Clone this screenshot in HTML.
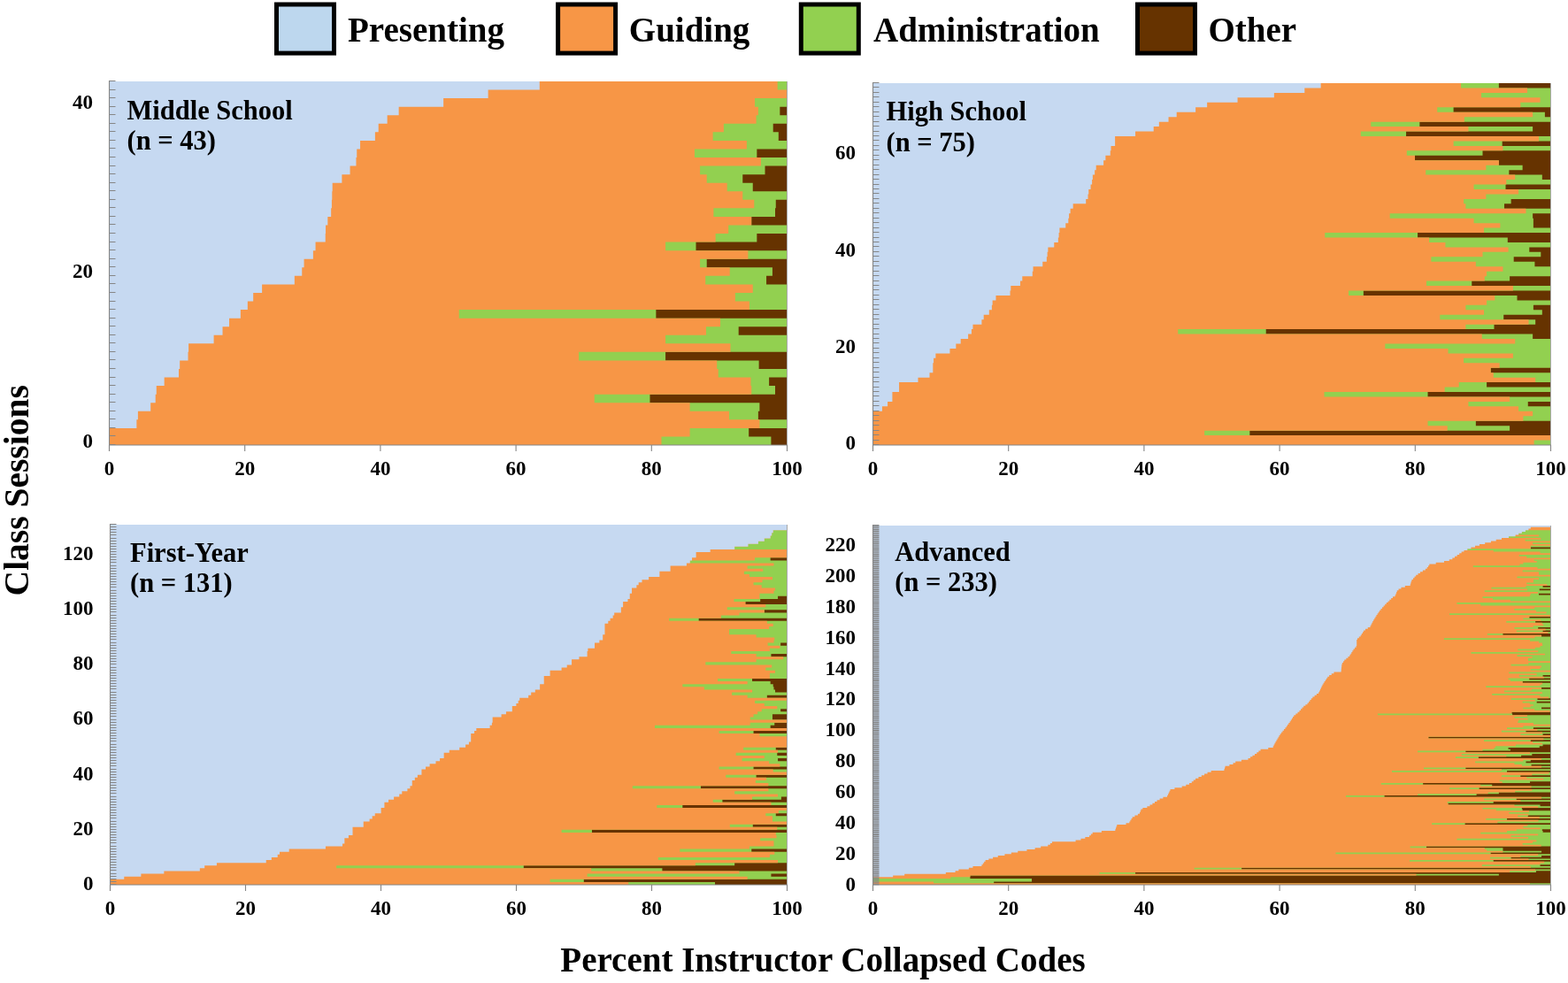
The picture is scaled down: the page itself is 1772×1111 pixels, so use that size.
<!DOCTYPE html>
<html><head><meta charset="utf-8"><title>Instructor codes</title>
<style>html,body{margin:0;padding:0;background:#fff;} body{width:1772px;height:1111px;overflow:hidden;} svg{display:block;}</style>
</head><body>
<svg width="1772" height="1111" viewBox="0 0 1772 1111">
<style>
text { font-family: "Liberation Serif", "Times New Roman", serif; font-weight: bold; fill: #000; }
.tk { font-size: 23px; }
.pt { font-size: 30.5px; }
.lg { font-size: 39px; }
.ax { font-size: 39px; }
</style>
<rect width="1772" height="1111" fill="#fff"/>
<rect x="312.50" y="5" width="65" height="55.1" fill="#BDD7EE" stroke="#000" stroke-width="5"/>
<text class="lg" x="393" y="46.8">Presenting</text>
<rect x="630.60" y="5" width="65" height="55.1" fill="#F79646" stroke="#000" stroke-width="5"/>
<text class="lg" x="710.8" y="46.8">Guiding</text>
<rect x="905.30" y="5" width="65" height="55.1" fill="#92D050" stroke="#000" stroke-width="5"/>
<text class="lg" x="987" y="46.8">Administration</text>
<rect x="1285.50" y="5" width="65" height="55.1" fill="#663300" stroke="#000" stroke-width="5"/>
<text class="lg" x="1365.5" y="46.8">Other</text>
<clipPath id="c1"><rect x="124" y="92" width="765" height="411"/></clipPath>
<g clip-path="url(#c1)">
<rect x="122.00" y="90.00" width="769.00" height="415.00" fill="#663300"/>
<path d="M122.00,505.00 L871.40,505.00 L871.40,493.44 L846.16,493.44 L846.16,483.88 L891.00,483.88 L891.00,474.33 L856.87,474.33 L856.87,464.77 L858.40,464.77 L858.40,455.21 L734.47,455.21 L734.47,445.65 L876.00,445.65 L876.00,436.09 L869.11,436.09 L869.11,426.53 L891.00,426.53 L891.00,416.98 L857.63,416.98 L857.63,407.42 L752.06,407.42 L752.06,397.86 L891.00,397.86 L891.00,388.30 L891.00,388.30 L891.00,378.74 L834.68,378.74 L834.68,369.19 L891.00,369.19 L891.00,359.63 L741.36,359.63 L741.36,350.07 L891.00,350.07 L891.00,340.51 L891.00,340.51 L891.00,330.95 L891.00,330.95 L891.00,321.40 L866.05,321.40 L866.05,311.84 L872.93,311.84 L872.93,302.28 L798.73,302.28 L798.73,292.72 L891.00,292.72 L891.00,283.16 L786.49,283.16 L786.49,273.60 L855.34,273.60 L855.34,264.05 L891.00,264.05 L891.00,254.49 L849.22,254.49 L849.22,244.93 L876.00,244.93 L876.00,235.37 L876.76,235.37 L876.76,225.81 L891.00,225.81 L891.00,216.26 L850.75,216.26 L850.75,206.70 L839.27,206.70 L839.27,197.14 L864.52,197.14 L864.52,187.58 L891.00,187.58 L891.00,178.02 L855.34,178.02 L855.34,168.47 L891.00,168.47 L891.00,158.91 L879.82,158.91 L879.82,149.35 L873.70,149.35 L873.70,139.79 L891.00,139.79 L891.00,130.23 L881.35,130.23 L881.35,120.67 L891.00,120.67 L891.00,111.12 L891.00,111.12 L891.00,101.56 L891.00,101.56 L891.00,90.00 L122.00,90.00 Z" fill="#92D050"/>
<path d="M122.00,505.00 L747.48,505.00 L747.48,493.44 L779.61,493.44 L779.61,483.88 L858.40,483.88 L858.40,474.33 L823.98,474.33 L823.98,464.77 L779.61,464.77 L779.61,455.21 L671.74,455.21 L671.74,445.65 L849.22,445.65 L849.22,436.09 L848.46,436.09 L848.46,426.53 L811.74,426.53 L811.74,416.98 L810.21,416.98 L810.21,407.42 L654.14,407.42 L654.14,397.86 L825.50,397.86 L825.50,388.30 L752.06,388.30 L752.06,378.74 L797.97,378.74 L797.97,369.19 L814.03,369.19 L814.03,359.63 L518.74,359.63 L518.74,350.07 L846.92,350.07 L846.92,340.51 L830.86,340.51 L830.86,330.95 L850.75,330.95 L850.75,321.40 L797.20,321.40 L797.20,311.84 L824.74,311.84 L824.74,302.28 L791.08,302.28 L791.08,292.72 L845.39,292.72 L845.39,283.16 L752.06,283.16 L752.06,273.60 L808.67,273.60 L808.67,264.05 L823.21,264.05 L823.21,254.49 L849.22,254.49 L849.22,244.93 L806.38,244.93 L806.38,235.37 L852.28,235.37 L852.28,225.81 L839.27,225.81 L839.27,216.26 L821.68,216.26 L821.68,206.70 L798.73,206.70 L798.73,197.14 L791.08,197.14 L791.08,187.58 L859.93,187.58 L859.93,178.02 L784.96,178.02 L784.96,168.47 L843.87,168.47 L843.87,158.91 L805.62,158.91 L805.62,149.35 L817.86,149.35 L817.86,139.79 L854.58,139.79 L854.58,130.23 L856.87,130.23 L856.87,120.67 L853.04,120.67 L853.04,111.12 L891.00,111.12 L891.00,101.56 L878.67,101.56 L878.67,90.00 L122.00,90.00 Z" fill="#F79646"/>
<path d="M122.00,505.00 L124.00,505.00 L124.00,493.44 L124.00,493.44 L124.00,483.88 L154.37,483.88 L154.37,474.33 L155.90,474.33 L155.90,464.77 L170.21,464.77 L170.21,455.21 L175.71,455.21 L175.71,445.65 L176.78,445.65 L176.78,436.09 L185.66,436.09 L185.66,426.53 L202.03,426.53 L202.03,416.98 L203.18,416.98 L203.18,407.42 L212.51,407.42 L212.51,397.86 L213.12,397.86 L213.12,388.30 L241.58,388.30 L241.58,378.74 L251.53,378.74 L251.53,369.19 L259.02,369.19 L259.02,359.63 L271.87,359.63 L271.87,350.07 L279.83,350.07 L279.83,340.51 L286.18,340.51 L286.18,330.95 L296.12,330.95 L296.12,321.40 L332.85,321.40 L332.85,311.84 L341.26,311.84 L341.26,302.28 L343.56,302.28 L343.56,292.72 L353.88,292.72 L353.88,283.16 L356.56,283.16 L356.56,273.60 L367.73,273.60 L367.73,264.05 L368.03,264.05 L368.03,254.49 L370.33,254.49 L370.33,244.93 L374.16,244.93 L374.16,235.37 L374.92,235.37 L374.92,225.81 L375.30,225.81 L375.30,216.26 L375.69,216.26 L375.69,206.70 L386.39,206.70 L386.39,197.14 L395.57,197.14 L395.57,187.58 L402.46,187.58 L402.46,178.02 L403.23,178.02 L403.23,168.47 L407.05,168.47 L407.05,158.91 L423.88,158.91 L423.88,149.35 L427.71,149.35 L427.71,139.79 L437.65,139.79 L437.65,130.23 L450.66,130.23 L450.66,120.67 L501.14,120.67 L501.14,111.12 L551.63,111.12 L551.63,101.56 L609.77,101.56 L609.77,90.00 L122.00,90.00 Z" fill="#C6D9F1"/>
</g>
<path d="M889.50,92.00V503.00" stroke="#a8a8a8" stroke-width="1" fill="none"/>
<path d="M123.00,502.50h7.5 M123.00,492.50h7.5 M123.00,483.50h7.5 M123.00,473.50h7.5 M123.00,464.50h7.5 M123.00,454.50h7.5 M123.00,445.50h7.5 M123.00,435.50h7.5 M123.00,426.50h7.5 M123.00,416.50h7.5 M123.00,406.50h7.5 M123.00,397.50h7.5 M123.00,387.50h7.5 M123.00,378.50h7.5 M123.00,368.50h7.5 M123.00,359.50h7.5 M123.00,349.50h7.5 M123.00,340.50h7.5 M123.00,330.50h7.5 M123.00,320.50h7.5 M123.00,311.50h7.5 M123.00,301.50h7.5 M123.00,292.50h7.5 M123.00,282.50h7.5 M123.00,273.50h7.5 M123.00,263.50h7.5 M123.00,253.50h7.5 M123.00,244.50h7.5 M123.00,234.50h7.5 M123.00,225.50h7.5 M123.00,215.50h7.5 M123.00,206.50h7.5 M123.00,196.50h7.5 M123.00,187.50h7.5 M123.00,177.50h7.5 M123.00,167.50h7.5 M123.00,158.50h7.5 M123.00,148.50h7.5 M123.00,139.50h7.5 M123.00,129.50h7.5 M123.00,120.50h7.5 M123.00,110.50h7.5 M123.00,101.50h7.5 M123.00,91.50h7.5" stroke="#868686" stroke-width="1.0" fill="none"/>
<path d="M123.50,91.00V510.00M123.50,503.00H890.00" stroke="#868686" stroke-width="1.1" fill="none"/>
<path d="M123.50,503.00v7 M276.70,503.00v7 M429.90,503.00v7 M583.10,503.00v7 M736.30,503.00v7 M889.50,503.00v7" stroke="#868686" stroke-width="1.1" fill="none"/>
<text class="tk" x="123.50" y="537.00" text-anchor="middle">0</text>
<text class="tk" x="276.70" y="537.00" text-anchor="middle">20</text>
<text class="tk" x="429.90" y="537.00" text-anchor="middle">40</text>
<text class="tk" x="583.10" y="537.00" text-anchor="middle">60</text>
<text class="tk" x="736.30" y="537.00" text-anchor="middle">80</text>
<text class="tk" x="889.50" y="537.00" text-anchor="middle">100</text>
<text class="tk" x="105.00" y="505.62" text-anchor="end">0</text>
<text class="tk" x="105.00" y="314.46" text-anchor="end">20</text>
<text class="tk" x="105.00" y="123.30" text-anchor="end">40</text>
<text class="pt" x="143.5" y="134.5">Middle School</text>
<text class="pt" x="143.5" y="168.9">(n = 43)</text>
<clipPath id="c2"><rect x="987" y="94" width="765" height="409"/></clipPath>
<g clip-path="url(#c2)">
<rect x="985.00" y="92.00" width="769.00" height="413.00" fill="#663300"/>
<path d="M985.00,505.00 L1754.00,505.00 L1754.00,497.55 L1754.00,497.55 L1754.00,492.09 L1412.34,492.09 L1412.34,486.64 L1706.10,486.64 L1706.10,481.19 L1667.85,481.19 L1667.85,475.73 L1754.00,475.73 L1754.00,470.28 L1754.00,470.28 L1754.00,464.83 L1754.00,464.83 L1754.00,459.37 L1726.76,459.37 L1726.76,453.92 L1754.00,453.92 L1754.00,448.47 L1613.54,448.47 L1613.54,443.01 L1754.00,443.01 L1754.00,437.56 L1680.09,437.56 L1680.09,432.11 L1754.00,432.11 L1754.00,426.65 L1754.00,426.65 L1754.00,421.20 L1684.68,421.20 L1684.68,415.75 L1754.00,415.75 L1754.00,410.29 L1754.00,410.29 L1754.00,404.84 L1754.00,404.84 L1754.00,399.39 L1754.00,399.39 L1754.00,393.93 L1754.00,393.93 L1754.00,388.48 L1754.00,388.48 L1754.00,383.03 L1732.11,383.03 L1732.11,377.57 L1430.70,377.57 L1430.70,372.12 L1688.51,372.12 L1688.51,366.67 L1735.17,366.67 L1735.17,361.21 L1699.22,361.21 L1699.22,355.76 L1742.82,355.76 L1742.82,350.31 L1732.88,350.31 L1732.88,344.85 L1754.00,344.85 L1754.00,339.40 L1714.51,339.40 L1714.51,333.95 L1540.86,333.95 L1540.86,328.49 L1754.00,328.49 L1754.00,323.04 L1663.26,323.04 L1663.26,317.59 L1706.10,317.59 L1706.10,312.13 L1754.00,312.13 L1754.00,306.68 L1754.00,306.68 L1754.00,301.23 L1734.40,301.23 L1734.40,295.77 L1710.69,295.77 L1710.69,290.32 L1741.29,290.32 L1741.29,284.87 L1728.28,284.87 L1728.28,279.41 L1754.00,279.41 L1754.00,273.96 L1703.80,273.96 L1703.80,268.51 L1602.06,268.51 L1602.06,263.05 L1754.00,263.05 L1754.00,257.60 L1732.88,257.60 L1732.88,252.15 L1732.88,252.15 L1732.88,246.69 L1732.11,246.69 L1732.11,241.24 L1754.00,241.24 L1754.00,235.79 L1699.98,235.79 L1699.98,230.33 L1707.63,230.33 L1707.63,224.88 L1754.00,224.88 L1754.00,219.43 L1754.00,219.43 L1754.00,213.97 L1701.51,213.97 L1701.51,208.52 L1754.00,208.52 L1754.00,203.07 L1742.82,203.07 L1742.82,197.61 L1705.34,197.61 L1705.34,192.16 L1720.63,192.16 L1720.63,186.71 L1693.86,186.71 L1693.86,181.25 L1599.00,181.25 L1599.00,175.80 L1675.50,175.80 L1675.50,170.35 L1754.00,170.35 L1754.00,164.89 L1697.68,164.89 L1697.68,159.44 L1754.00,159.44 L1754.00,153.99 L1589.05,153.99 L1589.05,148.53 L1732.11,148.53 L1732.11,143.08 L1604.36,143.08 L1604.36,137.63 L1754.00,137.63 L1754.00,132.17 L1745.88,132.17 L1745.88,126.72 L1642.61,126.72 L1642.61,121.27 L1754.00,121.27 L1754.00,115.81 L1754.00,115.81 L1754.00,110.36 L1754.00,110.36 L1754.00,104.91 L1754.00,104.91 L1754.00,99.45 L1693.86,99.45 L1693.86,92.00 L985.00,92.00 Z" fill="#92D050"/>
<path d="M985.00,505.00 L1733.64,505.00 L1733.64,497.55 L1754.00,497.55 L1754.00,492.09 L1361.09,492.09 L1361.09,486.64 L1635.72,486.64 L1635.72,481.19 L1613.54,481.19 L1613.54,475.73 L1721.40,475.73 L1721.40,470.28 L1732.11,470.28 L1732.11,464.83 L1716.05,464.83 L1716.05,459.37 L1659.43,459.37 L1659.43,453.92 L1706.10,453.92 L1706.10,448.47 L1496.49,448.47 L1496.49,443.01 L1632.66,443.01 L1632.66,437.56 L1648.72,437.56 L1648.72,432.11 L1735.17,432.11 L1735.17,426.65 L1687.74,426.65 L1687.74,421.20 L1684.68,421.20 L1684.68,415.75 L1694.62,415.75 L1694.62,410.29 L1654.08,410.29 L1654.08,404.84 L1709.92,404.84 L1709.92,399.39 L1636.49,399.39 L1636.49,393.93 L1565.34,393.93 L1565.34,388.48 L1712.22,388.48 L1712.22,383.03 L1674.74,383.03 L1674.74,377.57 L1331.25,377.57 L1331.25,372.12 L1656.38,372.12 L1656.38,366.67 L1727.52,366.67 L1727.52,361.21 L1627.30,361.21 L1627.30,355.76 L1677.03,355.76 L1677.03,350.31 L1656.38,350.31 L1656.38,344.85 L1680.09,344.85 L1680.09,339.40 L1689.27,339.40 L1689.27,333.95 L1524.03,333.95 L1524.03,328.49 L1709.92,328.49 L1709.92,323.04 L1612.01,323.04 L1612.01,317.59 L1677.80,317.59 L1677.80,312.13 L1680.09,312.13 L1680.09,306.68 L1698.45,306.68 L1698.45,301.23 L1667.85,301.23 L1667.85,295.77 L1617.36,295.77 L1617.36,290.32 L1675.50,290.32 L1675.50,284.87 L1704.57,284.87 L1704.57,279.41 L1633.42,279.41 L1633.42,273.96 L1615.07,273.96 L1615.07,268.51 L1497.26,268.51 L1497.26,263.05 L1677.03,263.05 L1677.03,257.60 L1695.39,257.60 L1695.39,252.15 L1665.55,252.15 L1665.55,246.69 L1570.70,246.69 L1570.70,241.24 L1724.46,241.24 L1724.46,235.79 L1656.38,235.79 L1656.38,230.33 L1654.08,230.33 L1654.08,224.88 L1679.33,224.88 L1679.33,219.43 L1716.05,219.43 L1716.05,213.97 L1665.55,213.97 L1665.55,208.52 L1702.28,208.52 L1702.28,203.07 L1712.22,203.07 L1712.22,197.61 L1611.24,197.61 L1611.24,192.16 L1679.33,192.16 L1679.33,186.71 L1693.86,186.71 L1693.86,181.25 L1599.00,181.25 L1599.00,175.80 L1589.82,175.80 L1589.82,170.35 L1698.45,170.35 L1698.45,164.89 L1642.61,164.89 L1642.61,159.44 L1738.99,159.44 L1738.99,153.99 L1537.80,153.99 L1537.80,148.53 L1659.43,148.53 L1659.43,143.08 L1549.28,143.08 L1549.28,137.63 L1654.85,137.63 L1654.85,132.17 L1732.11,132.17 L1732.11,126.72 L1624.24,126.72 L1624.24,121.27 L1718.34,121.27 L1718.34,115.81 L1740.53,115.81 L1740.53,110.36 L1673.97,110.36 L1673.97,104.91 L1725.99,104.91 L1725.99,99.45 L1651.02,99.45 L1651.02,92.00 L985.00,92.00 Z" fill="#F79646"/>
<path d="M985.00,505.00 L987.00,505.00 L987.00,497.55 L987.00,497.55 L987.00,492.09 L987.00,492.09 L987.00,486.64 L987.00,486.64 L987.00,481.19 L987.00,481.19 L987.00,475.73 L987.00,475.73 L987.00,470.28 L987.00,470.28 L987.00,464.83 L996.95,464.83 L996.95,459.37 L1003.07,459.37 L1003.07,453.92 L1008.42,453.92 L1008.42,448.47 L1008.42,448.47 L1008.42,443.01 L1016.07,443.01 L1016.07,437.56 L1016.07,437.56 L1016.07,432.11 L1037.49,432.11 L1037.49,426.65 L1050.50,426.65 L1050.50,421.20 L1054.32,421.20 L1054.32,415.75 L1054.32,415.75 L1054.32,410.29 L1055.09,410.29 L1055.09,404.84 L1057.38,404.84 L1057.38,399.39 L1073.44,399.39 L1073.44,393.93 L1080.33,393.93 L1080.33,388.48 L1085.68,388.48 L1085.68,383.03 L1094.10,383.03 L1094.10,377.57 L1097.92,377.57 L1097.92,372.12 L1099.45,372.12 L1099.45,366.67 L1109.40,366.67 L1109.40,361.21 L1111.69,361.21 L1111.69,355.76 L1117.82,355.76 L1117.82,350.31 L1120.88,350.31 L1120.88,344.85 L1121.64,344.85 L1121.64,339.40 L1125.47,339.40 L1125.47,333.95 L1141.53,333.95 L1141.53,328.49 L1142.30,328.49 L1142.30,323.04 L1153.01,323.04 L1153.01,317.59 L1155.30,317.59 L1155.30,312.13 L1166.78,312.13 L1166.78,306.68 L1167.54,306.68 L1167.54,301.23 L1178.25,301.23 L1178.25,295.77 L1182.84,295.77 L1182.84,290.32 L1183.61,290.32 L1183.61,284.87 L1184.37,284.87 L1184.37,279.41 L1191.26,279.41 L1191.26,273.96 L1195.85,273.96 L1195.85,268.51 L1196.61,268.51 L1196.61,263.05 L1197.38,263.05 L1197.38,257.60 L1204.26,257.60 L1204.26,252.15 L1207.32,252.15 L1207.32,246.69 L1208.09,246.69 L1208.09,241.24 L1209.62,241.24 L1209.62,235.79 L1212.67,235.79 L1212.67,230.33 L1227.21,230.33 L1227.21,224.88 L1229.51,224.88 L1229.51,219.43 L1230.27,219.43 L1230.27,213.97 L1232.57,213.97 L1232.57,208.52 L1234.10,208.52 L1234.10,203.07 L1234.86,203.07 L1234.86,197.61 L1237.15,197.61 L1237.15,192.16 L1238.68,192.16 L1238.68,186.71 L1247.10,186.71 L1247.10,181.25 L1249.39,181.25 L1249.39,175.80 L1254.75,175.80 L1254.75,170.35 L1255.51,170.35 L1255.51,164.89 L1260.11,164.89 L1260.11,159.44 L1260.11,159.44 L1260.11,153.99 L1283.06,153.99 L1283.06,148.53 L1303.71,148.53 L1303.71,143.08 L1309.83,143.08 L1309.83,137.63 L1320.54,137.63 L1320.54,132.17 L1329.72,132.17 L1329.72,126.72 L1351.14,126.72 L1351.14,121.27 L1364.14,121.27 L1364.14,115.81 L1398.57,115.81 L1398.57,110.36 L1439.88,110.36 L1439.88,104.91 L1474.31,104.91 L1474.31,99.45 L1492.66,99.45 L1492.66,92.00 L985.00,92.00 Z" fill="#C6D9F1"/>
</g>
<path d="M1752.50,94.00V503.00" stroke="#a8a8a8" stroke-width="1" fill="none"/>
<path d="M986.00,502.50h7.5 M986.00,497.50h7.5 M986.00,491.50h7.5 M986.00,486.50h7.5 M986.00,480.50h7.5 M986.00,475.50h7.5 M986.00,469.50h7.5 M986.00,464.50h7.5 M986.00,458.50h7.5 M986.00,453.50h7.5 M986.00,447.50h7.5 M986.00,442.50h7.5 M986.00,437.50h7.5 M986.00,431.50h7.5 M986.00,426.50h7.5 M986.00,420.50h7.5 M986.00,415.50h7.5 M986.00,409.50h7.5 M986.00,404.50h7.5 M986.00,398.50h7.5 M986.00,393.50h7.5 M986.00,387.50h7.5 M986.00,382.50h7.5 M986.00,377.50h7.5 M986.00,371.50h7.5 M986.00,366.50h7.5 M986.00,360.50h7.5 M986.00,355.50h7.5 M986.00,349.50h7.5 M986.00,344.50h7.5 M986.00,338.50h7.5 M986.00,333.50h7.5 M986.00,327.50h7.5 M986.00,322.50h7.5 M986.00,317.50h7.5 M986.00,311.50h7.5 M986.00,306.50h7.5 M986.00,300.50h7.5 M986.00,295.50h7.5 M986.00,289.50h7.5 M986.00,284.50h7.5 M986.00,278.50h7.5 M986.00,273.50h7.5 M986.00,268.50h7.5 M986.00,262.50h7.5 M986.00,257.50h7.5 M986.00,251.50h7.5 M986.00,246.50h7.5 M986.00,240.50h7.5 M986.00,235.50h7.5 M986.00,229.50h7.5 M986.00,224.50h7.5 M986.00,218.50h7.5 M986.00,213.50h7.5 M986.00,208.50h7.5 M986.00,202.50h7.5 M986.00,197.50h7.5 M986.00,191.50h7.5 M986.00,186.50h7.5 M986.00,180.50h7.5 M986.00,175.50h7.5 M986.00,169.50h7.5 M986.00,164.50h7.5 M986.00,158.50h7.5 M986.00,153.50h7.5 M986.00,148.50h7.5 M986.00,142.50h7.5 M986.00,137.50h7.5 M986.00,131.50h7.5 M986.00,126.50h7.5 M986.00,120.50h7.5 M986.00,115.50h7.5 M986.00,109.50h7.5 M986.00,104.50h7.5 M986.00,98.50h7.5 M986.00,93.50h7.5" stroke="#868686" stroke-width="1.0" fill="none"/>
<path d="M986.50,93.00V510.00M986.50,503.00H1753.00" stroke="#868686" stroke-width="1.1" fill="none"/>
<path d="M986.50,503.00v7 M1139.70,503.00v7 M1292.90,503.00v7 M1446.10,503.00v7 M1599.30,503.00v7 M1752.50,503.00v7" stroke="#868686" stroke-width="1.1" fill="none"/>
<text class="tk" x="986.50" y="537.00" text-anchor="middle">0</text>
<text class="tk" x="1139.70" y="537.00" text-anchor="middle">20</text>
<text class="tk" x="1292.90" y="537.00" text-anchor="middle">40</text>
<text class="tk" x="1446.10" y="537.00" text-anchor="middle">60</text>
<text class="tk" x="1599.30" y="537.00" text-anchor="middle">80</text>
<text class="tk" x="1752.50" y="537.00" text-anchor="middle">100</text>
<text class="tk" x="967.00" y="507.67" text-anchor="end">0</text>
<text class="tk" x="967.00" y="398.61" text-anchor="end">20</text>
<text class="tk" x="967.00" y="289.54" text-anchor="end">40</text>
<text class="tk" x="967.00" y="180.47" text-anchor="end">60</text>
<text class="pt" x="1001.5" y="135.9">High School</text>
<text class="pt" x="1001.5" y="171.4">(n = 75)</text>
<clipPath id="c3"><rect x="125" y="593" width="764" height="407"/></clipPath>
<g clip-path="url(#c3)">
<rect x="123.00" y="591.00" width="768.00" height="411.00" fill="#663300"/>
<path d="M123.00,1002.00 L808.02,1002.00 L808.02,996.89 L659.80,996.89 L659.80,993.79 L891.00,993.79 L891.00,990.68 L871.43,990.68 L871.43,987.57 L891.00,987.57 L891.00,984.47 L748.42,984.47 L748.42,981.36 L591.80,981.36 L591.80,978.25 L830.17,978.25 L830.17,975.15 L891.00,975.15 L891.00,972.04 L891.00,972.04 L891.00,968.93 L891.00,968.93 L891.00,965.82 L891.00,965.82 L891.00,962.72 L849.27,962.72 L849.27,959.61 L891.00,959.61 L891.00,956.50 L891.00,956.50 L891.00,953.40 L891.00,953.40 L891.00,950.29 L891.00,950.29 L891.00,947.18 L891.00,947.18 L891.00,944.08 L891.00,944.08 L891.00,940.97 L668.97,940.97 L668.97,937.86 L891.00,937.86 L891.00,934.76 L850.80,934.76 L850.80,931.65 L891.00,931.65 L891.00,928.54 L891.00,928.54 L891.00,925.44 L891.00,925.44 L891.00,922.33 L876.78,922.33 L876.78,919.22 L891.00,919.22 L891.00,916.11 L891.00,916.11 L891.00,913.01 L771.34,913.01 L771.34,909.90 L891.00,909.90 L891.00,906.79 L816.42,906.79 L816.42,903.69 L882.89,903.69 L882.89,900.58 L891.00,900.58 L891.00,897.47 L891.00,897.47 L891.00,894.37 L891.00,894.37 L891.00,891.26 L791.97,891.26 L791.97,888.15 L891.00,888.15 L891.00,885.05 L891.00,885.05 L891.00,881.94 L891.00,881.94 L891.00,878.83 L854.62,878.83 L854.62,875.73 L891.00,875.73 L891.00,872.62 L891.00,872.62 L891.00,869.51 L851.56,869.51 L851.56,866.40 L891.00,866.40 L891.00,863.30 L891.00,863.30 L891.00,860.19 L879.07,860.19 L879.07,857.08 L891.00,857.08 L891.00,853.98 L878.30,853.98 L878.30,850.87 L891.00,850.87 L891.00,847.76 L876.78,847.76 L876.78,844.66 L891.00,844.66 L891.00,841.55 L891.00,841.55 L891.00,838.44 L891.00,838.44 L891.00,835.34 L891.00,835.34 L891.00,832.23 L891.00,832.23 L891.00,829.12 L851.56,829.12 L851.56,826.02 L891.00,826.02 L891.00,822.91 L870.66,822.91 L870.66,819.80 L875.25,819.80 L875.25,816.69 L891.00,816.69 L891.00,813.59 L872.96,813.59 L872.96,810.48 L872.96,810.48 L872.96,807.37 L891.00,807.37 L891.00,804.27 L882.12,804.27 L882.12,801.16 L891.00,801.16 L891.00,798.05 L891.00,798.05 L891.00,794.95 L891.00,794.95 L891.00,791.84 L891.00,791.84 L891.00,788.73 L866.84,788.73 L866.84,785.63 L891.00,785.63 L891.00,782.52 L876.01,782.52 L876.01,779.41 L874.48,779.41 L874.48,776.31 L873.72,776.31 L873.72,773.20 L870.66,773.20 L870.66,770.09 L850.04,770.09 L850.04,766.98 L891.00,766.98 L891.00,763.88 L891.00,763.88 L891.00,760.77 L891.00,760.77 L891.00,757.66 L891.00,757.66 L891.00,754.56 L891.00,754.56 L891.00,751.45 L891.00,751.45 L891.00,748.34 L891.00,748.34 L891.00,745.24 L891.00,745.24 L891.00,742.13 L871.43,742.13 L871.43,739.02 L891.00,739.02 L891.00,735.92 L891.00,735.92 L891.00,732.81 L891.00,732.81 L891.00,729.70 L882.12,729.70 L882.12,726.60 L891.00,726.60 L891.00,723.49 L891.00,723.49 L891.00,720.38 L891.00,720.38 L891.00,717.27 L891.00,717.27 L891.00,714.17 L891.00,714.17 L891.00,711.06 L891.00,711.06 L891.00,707.95 L891.00,707.95 L891.00,704.85 L891.00,704.85 L891.00,701.74 L789.68,701.74 L789.68,698.63 L891.00,698.63 L891.00,695.53 L891.00,695.53 L891.00,692.42 L863.79,692.42 L863.79,689.31 L891.00,689.31 L891.00,686.21 L891.00,686.21 L891.00,683.10 L842.40,683.10 L842.40,679.99 L859.20,679.99 L859.20,676.89 L879.07,676.89 L879.07,673.78 L891.00,673.78 L891.00,670.67 L891.00,670.67 L891.00,667.56 L891.00,667.56 L891.00,664.46 L891.00,664.46 L891.00,661.35 L891.00,661.35 L891.00,658.24 L891.00,658.24 L891.00,655.14 L891.00,655.14 L891.00,652.03 L891.00,652.03 L891.00,648.92 L891.00,648.92 L891.00,645.82 L891.00,645.82 L891.00,642.71 L891.00,642.71 L891.00,639.60 L891.00,639.60 L891.00,636.50 L891.00,636.50 L891.00,633.39 L870.66,633.39 L870.66,630.28 L891.00,630.28 L891.00,627.18 L891.00,627.18 L891.00,624.07 L891.00,624.07 L891.00,620.96 L891.00,620.96 L891.00,617.85 L891.00,617.85 L891.00,614.75 L891.00,614.75 L891.00,611.64 L891.00,611.64 L891.00,608.53 L891.00,608.53 L891.00,605.43 L891.00,605.43 L891.00,602.32 L891.00,602.32 L891.00,599.21 L891.00,599.21 L891.00,596.11 L891.00,596.11 L891.00,591.00 L123.00,591.00 Z" fill="#92D050"/>
<path d="M123.00,1002.00 L710.22,1002.00 L710.22,996.89 L621.60,996.89 L621.60,993.79 L844.69,993.79 L844.69,990.68 L663.62,990.68 L663.62,987.57 L835.52,987.57 L835.52,984.47 L668.20,984.47 L668.20,981.36 L380.18,981.36 L380.18,978.25 L785.86,978.25 L785.86,975.15 L879.07,975.15 L879.07,972.04 L743.84,972.04 L743.84,968.93 L869.90,968.93 L869.90,965.82 L875.25,965.82 L875.25,962.72 L768.29,962.72 L768.29,959.61 L846.98,959.61 L846.98,956.50 L874.48,956.50 L874.48,953.40 L874.48,953.40 L874.48,950.29 L859.20,950.29 L859.20,947.18 L877.54,947.18 L877.54,944.08 L876.78,944.08 L876.78,940.97 L634.59,940.97 L634.59,937.86 L878.30,937.86 L878.30,934.76 L824.82,934.76 L824.82,931.65 L891.00,931.65 L891.00,928.54 L872.96,928.54 L872.96,925.44 L872.96,925.44 L872.96,922.33 L865.32,922.33 L865.32,919.22 L879.83,919.22 L879.83,916.11 L891.00,916.11 L891.00,913.01 L742.31,913.01 L742.31,909.90 L871.43,909.90 L871.43,906.79 L805.72,906.79 L805.72,903.69 L850.04,903.69 L850.04,900.58 L879.07,900.58 L879.07,897.47 L830.17,897.47 L830.17,894.37 L868.37,894.37 L868.37,891.26 L714.81,891.26 L714.81,888.15 L868.37,888.15 L868.37,885.05 L853.86,885.05 L853.86,881.94 L866.08,881.94 L866.08,878.83 L820.24,878.83 L820.24,875.73 L891.00,875.73 L891.00,872.62 L873.72,872.62 L873.72,869.51 L812.60,869.51 L812.60,866.40 L881.36,866.40 L881.36,863.30 L869.14,863.30 L869.14,860.19 L838.58,860.19 L838.58,857.08 L863.79,857.08 L863.79,853.98 L831.70,853.98 L831.70,850.87 L879.07,850.87 L879.07,847.76 L840.10,847.76 L840.10,844.66 L891.00,844.66 L891.00,841.55 L891.00,841.55 L891.00,838.44 L891.00,838.44 L891.00,835.34 L891.00,835.34 L891.00,832.23 L858.44,832.23 L858.44,829.12 L812.60,829.12 L812.60,826.02 L891.00,826.02 L891.00,822.91 L740.02,822.91 L740.02,819.80 L847.74,819.80 L847.74,816.69 L891.00,816.69 L891.00,813.59 L847.74,813.59 L847.74,810.48 L851.56,810.48 L851.56,807.37 L856.15,807.37 L856.15,804.27 L860.73,804.27 L860.73,801.16 L878.30,801.16 L878.30,798.05 L863.79,798.05 L863.79,794.95 L853.09,794.95 L853.09,791.84 L891.00,791.84 L891.00,788.73 L844.69,788.73 L844.69,785.63 L827.12,785.63 L827.12,782.52 L850.04,782.52 L850.04,779.41 L795.79,779.41 L795.79,776.31 L771.34,776.31 L771.34,773.20 L844.69,773.20 L844.69,770.09 L811.07,770.09 L811.07,766.98 L869.90,766.98 L869.90,763.88 L869.90,763.88 L869.90,760.77 L876.01,760.77 L876.01,757.66 L865.32,757.66 L865.32,754.56 L872.19,754.56 L872.19,751.45 L797.32,751.45 L797.32,748.34 L854.62,748.34 L854.62,745.24 L885.18,745.24 L885.18,742.13 L854.62,742.13 L854.62,739.02 L826.35,739.02 L826.35,735.92 L869.90,735.92 L869.90,732.81 L881.36,732.81 L881.36,729.70 L867.61,729.70 L867.61,726.60 L874.48,726.60 L874.48,723.49 L875.25,723.49 L875.25,720.38 L854.62,720.38 L854.62,717.27 L824.06,717.27 L824.06,714.17 L824.06,714.17 L824.06,711.06 L869.14,711.06 L869.14,707.95 L873.72,707.95 L873.72,704.85 L866.84,704.85 L866.84,701.74 L756.06,701.74 L756.06,698.63 L814.89,698.63 L814.89,695.53 L835.52,695.53 L835.52,692.42 L863.79,692.42 L863.79,689.31 L821.77,689.31 L821.77,686.21 L865.32,686.21 L865.32,683.10 L842.40,683.10 L842.40,679.99 L829.41,679.99 L829.41,676.89 L858.44,676.89 L858.44,673.78 L858.44,673.78 L858.44,670.67 L874.48,670.67 L874.48,667.56 L876.01,667.56 L876.01,664.46 L860.73,664.46 L860.73,661.35 L851.56,661.35 L851.56,658.24 L861.50,658.24 L861.50,655.14 L872.96,655.14 L872.96,652.03 L846.98,652.03 L846.98,648.92 L840.87,648.92 L840.87,645.82 L862.26,645.82 L862.26,642.71 L844.69,642.71 L844.69,639.60 L874.48,639.60 L874.48,636.50 L779.75,636.50 L779.75,633.39 L853.09,633.39 L853.09,630.28 L891.00,630.28 L891.00,627.18 L891.00,627.18 L891.00,624.07 L891.00,624.07 L891.00,620.96 L830.17,620.96 L830.17,617.85 L845.45,617.85 L845.45,614.75 L856.91,614.75 L856.91,611.64 L863.79,611.64 L863.79,608.53 L870.66,608.53 L870.66,605.43 L872.19,605.43 L872.19,602.32 L873.72,602.32 L873.72,599.21 L891.00,599.21 L891.00,596.11 L891.00,596.11 L891.00,591.00 L123.00,591.00 Z" fill="#F79646"/>
<path d="M123.00,1002.00 L125.00,1002.00 L125.00,996.89 L125.00,996.89 L125.00,993.79 L140.28,993.79 L140.28,990.68 L159.38,990.68 L159.38,987.57 L185.36,987.57 L185.36,984.47 L225.85,984.47 L225.85,981.36 L231.20,981.36 L231.20,978.25 L244.95,978.25 L244.95,975.15 L300.72,975.15 L300.72,972.04 L306.83,972.04 L306.83,968.93 L313.71,968.93 L313.71,965.82 L316.00,965.82 L316.00,962.72 L326.70,962.72 L326.70,959.61 L367.95,959.61 L367.95,956.50 L387.05,956.50 L387.05,953.40 L389.34,953.40 L389.34,950.29 L389.34,950.29 L389.34,947.18 L393.93,947.18 L393.93,944.08 L398.51,944.08 L398.51,940.97 L398.51,940.97 L398.51,937.86 L398.51,937.86 L398.51,934.76 L410.74,934.76 L410.74,931.65 L410.74,931.65 L410.74,928.54 L417.61,928.54 L417.61,925.44 L420.67,925.44 L420.67,922.33 L423.72,922.33 L423.72,919.22 L430.60,919.22 L430.60,916.11 L430.60,916.11 L430.60,913.01 L434.42,913.01 L434.42,909.90 L434.42,909.90 L434.42,906.79 L439.00,906.79 L439.00,903.69 L445.12,903.69 L445.12,900.58 L451.23,900.58 L451.23,897.47 L454.28,897.47 L454.28,894.37 L460.40,894.37 L460.40,891.26 L463.45,891.26 L463.45,888.15 L465.74,888.15 L465.74,885.05 L465.74,885.05 L465.74,881.94 L468.80,881.94 L468.80,878.83 L471.86,878.83 L471.86,875.73 L476.44,875.73 L476.44,872.62 L476.44,872.62 L476.44,869.51 L481.02,869.51 L481.02,866.40 L485.61,866.40 L485.61,863.30 L492.48,863.30 L492.48,860.19 L497.07,860.19 L497.07,857.08 L501.65,857.08 L501.65,853.98 L501.65,853.98 L501.65,850.87 L507.76,850.87 L507.76,847.76 L519.22,847.76 L519.22,844.66 L526.10,844.66 L526.10,841.55 L529.92,841.55 L529.92,838.44 L532.21,838.44 L532.21,835.34 L532.21,835.34 L532.21,832.23 L532.21,832.23 L532.21,829.12 L536.03,829.12 L536.03,826.02 L538.32,826.02 L538.32,822.91 L553.60,822.91 L553.60,819.80 L555.90,819.80 L555.90,816.69 L556.66,816.69 L556.66,813.59 L556.66,813.59 L556.66,810.48 L566.59,810.48 L566.59,807.37 L571.94,807.37 L571.94,804.27 L578.82,804.27 L578.82,801.16 L578.82,801.16 L578.82,798.05 L583.40,798.05 L583.40,794.95 L585.69,794.95 L585.69,791.84 L587.22,791.84 L587.22,788.73 L597.15,788.73 L597.15,785.63 L600.21,785.63 L600.21,782.52 L604.79,782.52 L604.79,779.41 L610.14,779.41 L610.14,776.31 L610.14,776.31 L610.14,773.20 L614.72,773.20 L614.72,770.09 L614.72,770.09 L614.72,766.98 L614.72,766.98 L614.72,763.88 L621.60,763.88 L621.60,760.77 L621.60,760.77 L621.60,757.66 L634.59,757.66 L634.59,754.56 L640.70,754.56 L640.70,751.45 L646.05,751.45 L646.05,748.34 L646.05,748.34 L646.05,745.24 L654.45,745.24 L654.45,742.13 L663.62,742.13 L663.62,739.02 L663.62,739.02 L663.62,735.92 L664.38,735.92 L664.38,732.81 L672.02,732.81 L672.02,729.70 L672.02,729.70 L672.02,726.60 L677.37,726.60 L677.37,723.49 L681.19,723.49 L681.19,720.38 L681.19,720.38 L681.19,717.27 L683.48,717.27 L683.48,714.17 L683.48,714.17 L683.48,711.06 L683.48,711.06 L683.48,707.95 L683.48,707.95 L683.48,704.85 L687.30,704.85 L687.30,701.74 L689.60,701.74 L689.60,698.63 L692.65,698.63 L692.65,695.53 L694.18,695.53 L694.18,692.42 L701.82,692.42 L701.82,689.31 L701.82,689.31 L701.82,686.21 L704.11,686.21 L704.11,683.10 L704.11,683.10 L704.11,679.99 L709.46,679.99 L709.46,676.89 L711.75,676.89 L711.75,673.78 L711.75,673.78 L711.75,670.67 L714.04,670.67 L714.04,667.56 L714.04,667.56 L714.04,664.46 L719.39,664.46 L719.39,661.35 L721.68,661.35 L721.68,658.24 L725.50,658.24 L725.50,655.14 L733.14,655.14 L733.14,652.03 L745.37,652.03 L745.37,648.92 L745.37,648.92 L745.37,645.82 L757.59,645.82 L757.59,642.71 L757.59,642.71 L757.59,639.60 L775.93,639.60 L775.93,636.50 L779.75,636.50 L779.75,633.39 L782.04,633.39 L782.04,630.28 L786.62,630.28 L786.62,627.18 L786.62,627.18 L786.62,624.07 L802.67,624.07 L802.67,620.96 L830.17,620.96 L830.17,617.85 L845.45,617.85 L845.45,614.75 L856.91,614.75 L856.91,611.64 L863.79,611.64 L863.79,608.53 L870.66,608.53 L870.66,605.43 L872.19,605.43 L872.19,602.32 L873.72,602.32 L873.72,599.21 L891.00,599.21 L891.00,596.11 L891.00,596.11 L891.00,591.00 L123.00,591.00 Z" fill="#C6D9F1"/>
</g>
<path d="M889.50,593.00V1000.00" stroke="#a8a8a8" stroke-width="1" fill="none"/>
<path d="M124.00,999.50h7.5 M124.00,996.50h7.5 M124.00,993.50h7.5 M124.00,990.50h7.5 M124.00,987.50h7.5 M124.00,983.50h7.5 M124.00,980.50h7.5 M124.00,977.50h7.5 M124.00,974.50h7.5 M124.00,971.50h7.5 M124.00,968.50h7.5 M124.00,965.50h7.5 M124.00,962.50h7.5 M124.00,959.50h7.5 M124.00,956.50h7.5 M124.00,952.50h7.5 M124.00,949.50h7.5 M124.00,946.50h7.5 M124.00,943.50h7.5 M124.00,940.50h7.5 M124.00,937.50h7.5 M124.00,934.50h7.5 M124.00,931.50h7.5 M124.00,928.50h7.5 M124.00,924.50h7.5 M124.00,921.50h7.5 M124.00,918.50h7.5 M124.00,915.50h7.5 M124.00,912.50h7.5 M124.00,909.50h7.5 M124.00,906.50h7.5 M124.00,903.50h7.5 M124.00,900.50h7.5 M124.00,896.50h7.5 M124.00,893.50h7.5 M124.00,890.50h7.5 M124.00,887.50h7.5 M124.00,884.50h7.5 M124.00,881.50h7.5 M124.00,878.50h7.5 M124.00,875.50h7.5 M124.00,872.50h7.5 M124.00,869.50h7.5 M124.00,865.50h7.5 M124.00,862.50h7.5 M124.00,859.50h7.5 M124.00,856.50h7.5 M124.00,853.50h7.5 M124.00,850.50h7.5 M124.00,847.50h7.5 M124.00,844.50h7.5 M124.00,841.50h7.5 M124.00,837.50h7.5 M124.00,834.50h7.5 M124.00,831.50h7.5 M124.00,828.50h7.5 M124.00,825.50h7.5 M124.00,822.50h7.5 M124.00,819.50h7.5 M124.00,816.50h7.5 M124.00,813.50h7.5 M124.00,809.50h7.5 M124.00,806.50h7.5 M124.00,803.50h7.5 M124.00,800.50h7.5 M124.00,797.50h7.5 M124.00,794.50h7.5 M124.00,791.50h7.5 M124.00,788.50h7.5 M124.00,785.50h7.5 M124.00,782.50h7.5 M124.00,778.50h7.5 M124.00,775.50h7.5 M124.00,772.50h7.5 M124.00,769.50h7.5 M124.00,766.50h7.5 M124.00,763.50h7.5 M124.00,760.50h7.5 M124.00,757.50h7.5 M124.00,754.50h7.5 M124.00,750.50h7.5 M124.00,747.50h7.5 M124.00,744.50h7.5 M124.00,741.50h7.5 M124.00,738.50h7.5 M124.00,735.50h7.5 M124.00,732.50h7.5 M124.00,729.50h7.5 M124.00,726.50h7.5 M124.00,722.50h7.5 M124.00,719.50h7.5 M124.00,716.50h7.5 M124.00,713.50h7.5 M124.00,710.50h7.5 M124.00,707.50h7.5 M124.00,704.50h7.5 M124.00,701.50h7.5 M124.00,698.50h7.5 M124.00,695.50h7.5 M124.00,691.50h7.5 M124.00,688.50h7.5 M124.00,685.50h7.5 M124.00,682.50h7.5 M124.00,679.50h7.5 M124.00,676.50h7.5 M124.00,673.50h7.5 M124.00,670.50h7.5 M124.00,667.50h7.5 M124.00,663.50h7.5 M124.00,660.50h7.5 M124.00,657.50h7.5 M124.00,654.50h7.5 M124.00,651.50h7.5 M124.00,648.50h7.5 M124.00,645.50h7.5 M124.00,642.50h7.5 M124.00,639.50h7.5 M124.00,635.50h7.5 M124.00,632.50h7.5 M124.00,629.50h7.5 M124.00,626.50h7.5 M124.00,623.50h7.5 M124.00,620.50h7.5 M124.00,617.50h7.5 M124.00,614.50h7.5 M124.00,611.50h7.5 M124.00,608.50h7.5 M124.00,604.50h7.5 M124.00,601.50h7.5 M124.00,598.50h7.5 M124.00,595.50h7.5 M124.00,592.50h7.5" stroke="#868686" stroke-width="1.0" fill="none"/>
<path d="M124.50,592.00V1007.00M124.50,1000.00H890.00" stroke="#868686" stroke-width="1.1" fill="none"/>
<path d="M124.50,1000.00v7 M277.50,1000.00v7 M430.50,1000.00v7 M583.50,1000.00v7 M736.50,1000.00v7 M889.50,1000.00v7" stroke="#868686" stroke-width="1.1" fill="none"/>
<text class="tk" x="124.50" y="1034.00" text-anchor="middle">0</text>
<text class="tk" x="277.50" y="1034.00" text-anchor="middle">20</text>
<text class="tk" x="430.50" y="1034.00" text-anchor="middle">40</text>
<text class="tk" x="583.50" y="1034.00" text-anchor="middle">60</text>
<text class="tk" x="736.50" y="1034.00" text-anchor="middle">80</text>
<text class="tk" x="889.50" y="1034.00" text-anchor="middle">100</text>
<text class="tk" x="105.50" y="1005.85" text-anchor="end">0</text>
<text class="tk" x="105.50" y="943.71" text-anchor="end">20</text>
<text class="tk" x="105.50" y="881.57" text-anchor="end">40</text>
<text class="tk" x="105.50" y="819.43" text-anchor="end">60</text>
<text class="tk" x="105.50" y="757.30" text-anchor="end">80</text>
<text class="tk" x="105.50" y="695.16" text-anchor="end">100</text>
<text class="tk" x="105.50" y="633.02" text-anchor="end">120</text>
<text class="pt" x="147" y="634.5">First-Year</text>
<text class="pt" x="147" y="668.9">(n = 131)</text>
<clipPath id="c4"><rect x="987" y="594" width="765" height="406"/></clipPath>
<g clip-path="url(#c4)">
<rect x="985.00" y="592.00" width="769.00" height="410.00" fill="#663300"/>
<path d="M985.00,1002.00 L1754.00,1002.00 L1754.00,998.26 L1123.17,998.26 L1123.17,996.52 L1166.01,996.52 L1166.01,994.77 L1166.01,994.77 L1166.01,993.03 L1096.39,993.03 L1096.39,991.29 L1096.39,991.29 L1096.39,989.55 L1693.86,989.55 L1693.86,987.80 L1283.06,987.80 L1283.06,986.06 L1735.93,986.06 L1735.93,984.32 L1754.00,984.32 L1754.00,982.58 L1403.16,982.58 L1403.16,980.83 L1754.00,980.83 L1754.00,979.09 L1740.53,979.09 L1740.53,977.35 L1754.00,977.35 L1754.00,975.61 L1754.00,975.61 L1754.00,973.86 L1687.74,973.86 L1687.74,972.12 L1754.00,972.12 L1754.00,970.38 L1707.63,970.38 L1707.63,968.64 L1742.05,968.64 L1742.05,966.89 L1754.00,966.89 L1754.00,965.15 L1684.68,965.15 L1684.68,963.41 L1742.05,963.41 L1742.05,961.67 L1698.45,961.67 L1698.45,959.92 L1698.45,959.92 L1698.45,958.18 L1612.01,958.18 L1612.01,956.44 L1754.00,956.44 L1754.00,954.70 L1754.00,954.70 L1754.00,952.95 L1754.00,952.95 L1754.00,951.21 L1754.00,951.21 L1754.00,949.47 L1754.00,949.47 L1754.00,947.73 L1754.00,947.73 L1754.00,945.98 L1754.00,945.98 L1754.00,944.24 L1754.00,944.24 L1754.00,942.50 L1754.00,942.50 L1754.00,940.76 L1743.59,940.76 L1743.59,939.01 L1742.82,939.01 L1742.82,937.27 L1754.00,937.27 L1754.00,935.53 L1754.00,935.53 L1754.00,933.79 L1754.00,933.79 L1754.00,932.04 L1655.61,932.04 L1655.61,930.30 L1754.00,930.30 L1754.00,928.56 L1754.00,928.56 L1754.00,926.82 L1703.04,926.82 L1703.04,925.07 L1754.00,925.07 L1754.00,923.33 L1726.76,923.33 L1726.76,921.59 L1754.00,921.59 L1754.00,919.85 L1754.00,919.85 L1754.00,918.10 L1754.00,918.10 L1754.00,916.36 L1720.63,916.36 L1720.63,914.62 L1719.87,914.62 L1719.87,912.88 L1754.00,912.88 L1754.00,911.13 L1740.53,911.13 L1740.53,909.39 L1636.49,909.39 L1636.49,907.65 L1687.74,907.65 L1687.74,905.91 L1754.00,905.91 L1754.00,904.16 L1713.75,904.16 L1713.75,902.42 L1754.00,902.42 L1754.00,900.68 L1564.58,900.68 L1564.58,898.94 L1668.62,898.94 L1668.62,897.19 L1693.86,897.19 L1693.86,895.45 L1754.00,895.45 L1754.00,893.71 L1754.00,893.71 L1754.00,891.97 L1671.67,891.97 L1671.67,890.22 L1754.00,890.22 L1754.00,888.48 L1686.21,888.48 L1686.21,886.74 L1608.18,886.74 L1608.18,885.00 L1729.05,885.00 L1729.05,883.25 L1754.00,883.25 L1754.00,881.51 L1754.00,881.51 L1754.00,879.77 L1754.00,879.77 L1754.00,878.03 L1718.34,878.03 L1718.34,876.28 L1754.00,876.28 L1754.00,874.54 L1754.00,874.54 L1754.00,872.80 L1703.04,872.80 L1703.04,871.06 L1754.00,871.06 L1754.00,869.31 L1656.38,869.31 L1656.38,867.57 L1754.00,867.57 L1754.00,865.83 L1730.58,865.83 L1730.58,864.09 L1754.00,864.09 L1754.00,862.34 L1724.46,862.34 L1724.46,860.60 L1729.82,860.60 L1729.82,858.86 L1754.00,858.86 L1754.00,857.12 L1670.91,857.12 L1670.91,855.37 L1719.11,855.37 L1719.11,853.63 L1731.35,853.63 L1731.35,851.89 L1754.00,851.89 L1754.00,850.15 L1656.38,850.15 L1656.38,848.40 L1706.87,848.40 L1706.87,846.66 L1704.57,846.66 L1704.57,844.92 L1739.76,844.92 L1739.76,843.18 L1743.59,843.18 L1743.59,841.43 L1754.00,841.43 L1754.00,839.69 L1754.00,839.69 L1754.00,837.95 L1729.82,837.95 L1729.82,836.21 L1754.00,836.21 L1754.00,834.46 L1614.30,834.46 L1614.30,832.72 L1754.00,832.72 L1754.00,830.98 L1743.59,830.98 L1743.59,829.24 L1754.00,829.24 L1754.00,827.49 L1724.46,827.49 L1724.46,825.75 L1754.00,825.75 L1754.00,824.01 L1732.88,824.01 L1732.88,822.27 L1754.00,822.27 L1754.00,820.52 L1754.00,820.52 L1754.00,818.78 L1754.00,818.78 L1754.00,817.04 L1754.00,817.04 L1754.00,815.30 L1754.00,815.30 L1754.00,813.55 L1754.00,813.55 L1754.00,811.81 L1754.00,811.81 L1754.00,810.07 L1754.00,810.07 L1754.00,808.33 L1709.16,808.33 L1709.16,806.58 L1708.39,806.58 L1708.39,804.84 L1754.00,804.84 L1754.00,803.10 L1754.00,803.10 L1754.00,801.36 L1742.05,801.36 L1742.05,799.61 L1754.00,799.61 L1754.00,797.87 L1754.00,797.87 L1754.00,796.13 L1754.00,796.13 L1754.00,794.39 L1736.70,794.39 L1736.70,792.64 L1754.00,792.64 L1754.00,790.90 L1737.47,790.90 L1737.47,789.16 L1754.00,789.16 L1754.00,787.42 L1754.00,787.42 L1754.00,785.67 L1754.00,785.67 L1754.00,783.93 L1754.00,783.93 L1754.00,782.19 L1754.00,782.19 L1754.00,780.45 L1754.00,780.45 L1754.00,778.70 L1742.05,778.70 L1742.05,776.96 L1754.00,776.96 L1754.00,775.22 L1754.00,775.22 L1754.00,773.48 L1754.00,773.48 L1754.00,771.73 L1720.63,771.73 L1720.63,769.99 L1754.00,769.99 L1754.00,768.25 L1728.28,768.25 L1728.28,766.51 L1754.00,766.51 L1754.00,764.76 L1743.59,764.76 L1743.59,763.02 L1754.00,763.02 L1754.00,761.28 L1754.00,761.28 L1754.00,759.54 L1754.00,759.54 L1754.00,757.79 L1754.00,757.79 L1754.00,756.05 L1754.00,756.05 L1754.00,754.31 L1754.00,754.31 L1754.00,752.57 L1754.00,752.57 L1754.00,750.82 L1754.00,750.82 L1754.00,749.08 L1754.00,749.08 L1754.00,747.34 L1754.00,747.34 L1754.00,745.60 L1754.00,745.60 L1754.00,743.85 L1754.00,743.85 L1754.00,742.11 L1754.00,742.11 L1754.00,740.37 L1754.00,740.37 L1754.00,738.63 L1754.00,738.63 L1754.00,736.88 L1754.00,736.88 L1754.00,735.14 L1754.00,735.14 L1754.00,733.40 L1754.00,733.40 L1754.00,731.66 L1754.00,731.66 L1754.00,729.91 L1754.00,729.91 L1754.00,728.17 L1754.00,728.17 L1754.00,726.43 L1754.00,726.43 L1754.00,724.69 L1754.00,724.69 L1754.00,722.94 L1754.00,722.94 L1754.00,721.20 L1754.00,721.20 L1754.00,719.46 L1742.05,719.46 L1742.05,717.72 L1698.45,717.72 L1698.45,715.97 L1754.00,715.97 L1754.00,714.23 L1743.59,714.23 L1743.59,712.49 L1754.00,712.49 L1754.00,710.75 L1738.23,710.75 L1738.23,709.00 L1754.00,709.00 L1754.00,707.26 L1754.00,707.26 L1754.00,705.52 L1754.00,705.52 L1754.00,703.78 L1735.17,703.78 L1735.17,702.03 L1754.00,702.03 L1754.00,700.29 L1754.00,700.29 L1754.00,698.55 L1728.28,698.55 L1728.28,696.81 L1754.00,696.81 L1754.00,695.06 L1754.00,695.06 L1754.00,693.32 L1754.00,693.32 L1754.00,691.58 L1754.00,691.58 L1754.00,689.84 L1754.00,689.84 L1754.00,688.09 L1754.00,688.09 L1754.00,686.35 L1754.00,686.35 L1754.00,684.61 L1754.00,684.61 L1754.00,682.87 L1754.00,682.87 L1754.00,681.12 L1754.00,681.12 L1754.00,679.38 L1754.00,679.38 L1754.00,677.64 L1754.00,677.64 L1754.00,675.90 L1754.00,675.90 L1754.00,674.15 L1754.00,674.15 L1754.00,672.41 L1738.99,672.41 L1738.99,670.67 L1754.00,670.67 L1754.00,668.93 L1754.00,668.93 L1754.00,667.18 L1739.76,667.18 L1739.76,665.44 L1754.00,665.44 L1754.00,663.70 L1743.59,663.70 L1743.59,661.96 L1754.00,661.96 L1754.00,660.21 L1754.00,660.21 L1754.00,658.47 L1754.00,658.47 L1754.00,656.73 L1754.00,656.73 L1754.00,654.99 L1754.00,654.99 L1754.00,653.24 L1754.00,653.24 L1754.00,651.50 L1754.00,651.50 L1754.00,649.76 L1754.00,649.76 L1754.00,648.02 L1754.00,648.02 L1754.00,646.27 L1754.00,646.27 L1754.00,644.53 L1754.00,644.53 L1754.00,642.79 L1754.00,642.79 L1754.00,641.05 L1754.00,641.05 L1754.00,639.30 L1754.00,639.30 L1754.00,637.56 L1754.00,637.56 L1754.00,635.82 L1754.00,635.82 L1754.00,634.08 L1754.00,634.08 L1754.00,632.33 L1754.00,632.33 L1754.00,630.59 L1754.00,630.59 L1754.00,628.85 L1754.00,628.85 L1754.00,627.11 L1754.00,627.11 L1754.00,625.36 L1754.00,625.36 L1754.00,623.62 L1754.00,623.62 L1754.00,621.88 L1754.00,621.88 L1754.00,620.14 L1729.82,620.14 L1729.82,618.39 L1754.00,618.39 L1754.00,616.65 L1754.00,616.65 L1754.00,614.91 L1754.00,614.91 L1754.00,613.17 L1754.00,613.17 L1754.00,611.42 L1754.00,611.42 L1754.00,609.68 L1754.00,609.68 L1754.00,607.94 L1754.00,607.94 L1754.00,606.20 L1754.00,606.20 L1754.00,604.45 L1754.00,604.45 L1754.00,602.71 L1754.00,602.71 L1754.00,600.97 L1754.00,600.97 L1754.00,599.23 L1754.00,599.23 L1754.00,597.48 L1754.00,597.48 L1754.00,595.74 L1754.00,595.74 L1754.00,592.00 L985.00,592.00 Z" fill="#92D050"/>
<path d="M985.00,1002.00 L1729.05,1002.00 L1729.05,998.26 L1055.09,998.26 L1055.09,996.52 L987.00,996.52 L987.00,994.77 L987.00,994.77 L987.00,993.03 L1074.21,993.03 L1074.21,991.29 L1096.39,991.29 L1096.39,989.55 L1600.53,989.55 L1600.53,987.80 L1242.51,987.80 L1242.51,986.06 L1706.10,986.06 L1706.10,984.32 L1735.13,984.32 L1735.13,982.58 L1349.61,982.58 L1349.61,980.83 L1729.84,980.83 L1729.84,979.09 L1674.74,979.09 L1674.74,977.35 L1740.53,977.35 L1740.53,975.61 L1745.14,975.61 L1745.14,973.86 L1592.88,973.86 L1592.88,972.12 L1727.44,972.12 L1727.44,970.38 L1683.91,970.38 L1683.91,968.64 L1718.34,968.64 L1718.34,966.89 L1738.23,966.89 L1738.23,965.15 L1509.49,965.15 L1509.49,963.41 L1698.45,963.41 L1698.45,961.67 L1680.09,961.67 L1680.09,959.92 L1677.80,959.92 L1677.80,958.18 L1593.64,958.18 L1593.64,956.44 L1741.62,956.44 L1741.62,954.70 L1720.63,954.70 L1720.63,952.95 L1732.11,952.95 L1732.11,951.21 L1736.42,951.21 L1736.42,949.47 L1646.43,949.47 L1646.43,947.73 L1727.00,947.73 L1727.00,945.98 L1707.63,945.98 L1707.63,944.24 L1738.23,944.24 L1738.23,942.50 L1673.20,942.50 L1673.20,940.76 L1703.04,940.76 L1703.04,939.01 L1713.75,939.01 L1713.75,937.27 L1740.75,937.27 L1740.75,935.53 L1721.40,935.53 L1721.40,933.79 L1726.37,933.79 L1726.37,932.04 L1618.12,932.04 L1618.12,930.30 L1692.33,930.30 L1692.33,928.56 L1738.49,928.56 L1738.49,926.82 L1679.33,926.82 L1679.33,925.07 L1739.76,925.07 L1739.76,923.33 L1715.28,923.33 L1715.28,921.59 L1727.36,921.59 L1727.36,919.85 L1705.34,919.85 L1705.34,918.10 L1728.00,918.10 L1728.00,916.36 L1690.80,916.36 L1690.80,914.62 L1675.50,914.62 L1675.50,912.88 L1738.22,912.88 L1738.22,911.13 L1711.45,911.13 L1711.45,909.39 L1636.49,909.39 L1636.49,907.65 L1635.72,907.65 L1635.72,905.91 L1718.34,905.91 L1718.34,904.16 L1677.03,904.16 L1677.03,902.42 L1742.05,902.42 L1742.05,900.68 L1520.97,900.68 L1520.97,898.94 L1602.06,898.94 L1602.06,897.19 L1681.62,897.19 L1681.62,895.45 L1712.22,895.45 L1712.22,893.71 L1731.35,893.71 L1731.35,891.97 L1638.01,891.97 L1638.01,890.22 L1730.58,890.22 L1730.58,888.48 L1673.20,888.48 L1673.20,886.74 L1560.75,886.74 L1560.75,885.00 L1697.68,885.00 L1697.68,883.25 L1694.62,883.25 L1694.62,881.51 L1744.35,881.51 L1744.35,879.77 L1725.22,879.77 L1725.22,878.03 L1696.92,878.03 L1696.92,876.28 L1731.35,876.28 L1731.35,874.54 L1750.53,874.54 L1750.53,872.80 L1572.99,872.80 L1572.99,871.06 L1696.92,871.06 L1696.92,869.31 L1608.95,869.31 L1608.95,867.57 L1742.05,867.57 L1742.05,865.83 L1719.87,865.83 L1719.87,864.09 L1711.45,864.09 L1711.45,862.34 L1667.09,862.34 L1667.09,860.60 L1721.40,860.60 L1721.40,858.86 L1742.05,858.86 L1742.05,857.12 L1644.90,857.12 L1644.90,855.37 L1702.28,855.37 L1702.28,853.63 L1651.78,853.63 L1651.78,851.89 L1729.01,851.89 L1729.01,850.15 L1602.06,850.15 L1602.06,848.40 L1675.50,848.40 L1675.50,846.66 L1688.51,846.66 L1688.51,844.92 L1690.03,844.92 L1690.03,843.18 L1712.99,843.18 L1712.99,841.43 L1742.82,841.43 L1742.82,839.69 L1732.06,839.69 L1732.06,837.95 L1677.03,837.95 L1677.03,836.21 L1744.42,836.21 L1744.42,834.46 L1614.30,834.46 L1614.30,832.72 L1754.00,832.72 L1754.00,830.98 L1718.34,830.98 L1718.34,829.24 L1742.88,829.24 L1742.88,827.49 L1696.92,827.49 L1696.92,825.75 L1737.36,825.75 L1737.36,824.01 L1703.04,824.01 L1703.04,822.27 L1721.40,822.27 L1721.40,820.52 L1754.00,820.52 L1754.00,818.78 L1732.88,818.78 L1732.88,817.04 L1715.28,817.04 L1715.28,815.30 L1716.05,815.30 L1716.05,813.55 L1726.65,813.55 L1726.65,811.81 L1711.45,811.81 L1711.45,810.07 L1725.99,810.07 L1725.99,808.33 L1556.92,808.33 L1556.92,806.58 L1708.39,806.58 L1708.39,804.84 L1751.49,804.84 L1751.49,803.10 L1734.09,803.10 L1734.09,801.36 L1721.40,801.36 L1721.40,799.61 L1729.64,799.61 L1729.64,797.87 L1732.88,797.87 L1732.88,796.13 L1728.83,796.13 L1728.83,794.39 L1720.63,794.39 L1720.63,792.64 L1734.66,792.64 L1734.66,790.90 L1707.63,790.90 L1707.63,789.16 L1750.20,789.16 L1750.20,787.42 L1740.53,787.42 L1740.53,785.67 L1686.21,785.67 L1686.21,783.93 L1742.82,783.93 L1742.82,782.19 L1699.98,782.19 L1699.98,780.45 L1730.76,780.45 L1730.76,778.70 L1742.05,778.70 L1742.05,776.96 L1679.33,776.96 L1679.33,775.22 L1740.53,775.22 L1740.53,773.48 L1743.02,773.48 L1743.02,771.73 L1720.63,771.73 L1720.63,769.99 L1706.87,769.99 L1706.87,768.25 L1704.57,768.25 L1704.57,766.51 L1744.78,766.51 L1744.78,764.76 L1716.81,764.76 L1716.81,763.02 L1736.62,763.02 L1736.62,761.28 L1705.34,761.28 L1705.34,759.54 L1754.00,759.54 L1754.00,757.79 L1729.82,757.79 L1729.82,756.05 L1740.53,756.05 L1740.53,754.31 L1741.99,754.31 L1741.99,752.57 L1707.63,752.57 L1707.63,750.82 L1727.15,750.82 L1727.15,749.08 L1754.00,749.08 L1754.00,747.34 L1727.05,747.34 L1727.05,745.60 L1726.76,745.60 L1726.76,743.85 L1731.53,743.85 L1731.53,742.11 L1714.51,742.11 L1714.51,740.37 L1746.05,740.37 L1746.05,738.63 L1662.49,738.63 L1662.49,736.88 L1738.31,736.88 L1738.31,735.14 L1715.28,735.14 L1715.28,733.40 L1734.84,733.40 L1734.84,731.66 L1740.53,731.66 L1740.53,729.91 L1743.14,729.91 L1743.14,728.17 L1742.82,728.17 L1742.82,726.43 L1739.09,726.43 L1739.09,724.69 L1729.05,724.69 L1729.05,722.94 L1631.89,722.94 L1631.89,721.20 L1734.40,721.20 L1734.40,719.46 L1742.05,719.46 L1742.05,717.72 L1680.86,717.72 L1680.86,715.97 L1749.53,715.97 L1749.53,714.23 L1713.75,714.23 L1713.75,712.49 L1746.61,712.49 L1746.61,710.75 L1711.45,710.75 L1711.45,709.00 L1732.69,709.00 L1732.69,707.26 L1744.35,707.26 L1744.35,705.52 L1742.80,705.52 L1742.80,703.78 L1702.28,703.78 L1702.28,702.03 L1741.30,702.03 L1741.30,700.29 L1721.40,700.29 L1721.40,698.55 L1728.28,698.55 L1728.28,696.81 L1754.00,696.81 L1754.00,695.06 L1638.01,695.06 L1638.01,693.32 L1747.55,693.32 L1747.55,691.58 L1735.93,691.58 L1735.93,689.84 L1711.45,689.84 L1711.45,688.09 L1734.04,688.09 L1734.04,686.35 L1754.00,686.35 L1754.00,684.61 L1673.20,684.61 L1673.20,682.87 L1646.43,682.87 L1646.43,681.12 L1754.00,681.12 L1754.00,679.38 L1706.87,679.38 L1706.87,677.64 L1686.97,677.64 L1686.97,675.90 L1675.50,675.90 L1675.50,674.15 L1728.84,674.15 L1728.84,672.41 L1729.82,672.41 L1729.82,670.67 L1738.02,670.67 L1738.02,668.93 L1677.80,668.93 L1677.80,667.18 L1725.99,667.18 L1725.99,665.44 L1685.45,665.44 L1685.45,663.70 L1724.46,663.70 L1724.46,661.96 L1748.39,661.96 L1748.39,660.21 L1725.22,660.21 L1725.22,658.47 L1732.88,658.47 L1732.88,656.73 L1732.88,656.73 L1732.88,654.99 L1738.99,654.99 L1738.99,653.24 L1714.51,653.24 L1714.51,651.50 L1754.00,651.50 L1754.00,649.76 L1738.99,649.76 L1738.99,648.02 L1738.99,648.02 L1738.99,646.27 L1720.63,646.27 L1720.63,644.53 L1754.00,644.53 L1754.00,642.79 L1737.47,642.79 L1737.47,641.05 L1664.79,641.05 L1664.79,639.30 L1717.58,639.30 L1717.58,637.56 L1721.40,637.56 L1721.40,635.82 L1736.70,635.82 L1736.70,634.08 L1733.64,634.08 L1733.64,632.33 L1754.00,632.33 L1754.00,630.59 L1725.22,630.59 L1725.22,628.85 L1716.81,628.85 L1716.81,627.11 L1754.00,627.11 L1754.00,625.36 L1740.53,625.36 L1740.53,623.62 L1687.74,623.62 L1687.74,621.88 L1658.29,621.88 L1658.29,620.14 L1729.82,620.14 L1729.82,618.39 L1729.82,618.39 L1729.82,616.65 L1754.00,616.65 L1754.00,614.91 L1732.11,614.91 L1732.11,613.17 L1754.00,613.17 L1754.00,611.42 L1723.70,611.42 L1723.70,609.68 L1741.29,609.68 L1741.29,607.94 L1705.03,607.94 L1705.03,606.20 L1738.99,606.20 L1738.99,604.45 L1716.20,604.45 L1716.20,602.71 L1719.87,602.71 L1719.87,600.97 L1723.92,600.97 L1723.92,599.23 L1754.00,599.23 L1754.00,597.48 L1754.00,597.48 L1754.00,595.74 L1754.00,595.74 L1754.00,592.00 L985.00,592.00 Z" fill="#F79646"/>
<path d="M985.00,1002.00 L987.00,1002.00 L987.00,998.26 L987.00,998.26 L987.00,996.52 L987.00,996.52 L987.00,994.77 L987.00,994.77 L987.00,993.03 L987.00,993.03 L987.00,991.29 L1009.18,991.29 L1009.18,989.55 L1022.19,989.55 L1022.19,987.80 L1068.86,987.80 L1068.86,986.06 L1079.57,986.06 L1079.57,984.32 L1083.39,984.32 L1083.39,982.58 L1094.87,982.58 L1094.87,980.83 L1099.45,980.83 L1099.45,979.09 L1109.40,979.09 L1109.40,977.35 L1110.78,977.35 L1110.78,975.61 L1112.15,975.61 L1112.15,973.86 L1113.61,973.86 L1113.61,972.12 L1117.36,972.12 L1117.36,970.38 L1122.10,970.38 L1122.10,968.64 L1127.76,968.64 L1127.76,966.89 L1135.41,966.89 L1135.41,965.15 L1142.83,965.15 L1142.83,963.41 L1150.25,963.41 L1150.25,961.67 L1160.43,961.67 L1160.43,959.92 L1169.61,959.92 L1169.61,958.18 L1176.18,958.18 L1176.18,956.44 L1184.29,956.44 L1184.29,954.70 L1186.89,954.70 L1186.89,952.95 L1188.96,952.95 L1188.96,951.21 L1215.58,951.21 L1215.58,949.47 L1221.47,949.47 L1221.47,947.73 L1226.37,947.73 L1226.37,945.98 L1231.04,945.98 L1231.04,944.24 L1232.87,944.24 L1232.87,942.50 L1234.71,942.50 L1234.71,940.76 L1244.88,940.76 L1244.88,939.01 L1260.33,939.01 L1260.33,937.27 L1260.95,937.27 L1260.95,935.53 L1261.56,935.53 L1261.56,933.79 L1262.25,933.79 L1262.25,932.04 L1272.50,932.04 L1272.50,930.30 L1276.32,930.30 L1276.32,928.56 L1277.39,928.56 L1277.39,926.82 L1278.54,926.82 L1278.54,925.07 L1279.69,925.07 L1279.69,923.33 L1282.44,923.33 L1282.44,921.59 L1285.89,921.59 L1285.89,919.85 L1288.03,919.85 L1288.03,918.10 L1288.72,918.10 L1288.72,916.36 L1289.40,916.36 L1289.40,914.62 L1291.39,914.62 L1291.39,912.88 L1296.37,912.88 L1296.37,911.13 L1299.50,911.13 L1299.50,909.39 L1302.41,909.39 L1302.41,907.65 L1305.01,907.65 L1305.01,905.91 L1307.54,905.91 L1307.54,904.16 L1310.60,904.16 L1310.60,902.42 L1314.42,902.42 L1314.42,900.68 L1319.09,900.68 L1319.09,898.94 L1319.93,898.94 L1319.93,897.19 L1320.77,897.19 L1320.77,895.45 L1321.61,895.45 L1321.61,893.71 L1322.53,893.71 L1322.53,891.97 L1327.42,891.97 L1327.42,890.22 L1335.69,890.22 L1335.69,888.48 L1340.28,888.48 L1340.28,886.74 L1343.95,886.74 L1343.95,885.00 L1346.78,885.00 L1346.78,883.25 L1348.77,883.25 L1348.77,881.51 L1351.06,881.51 L1351.06,879.77 L1354.43,879.77 L1354.43,878.03 L1357.80,878.03 L1357.80,876.28 L1361.09,876.28 L1361.09,874.54 L1364.53,874.54 L1364.53,872.80 L1368.66,872.80 L1368.66,871.06 L1383.42,871.06 L1383.42,869.31 L1384.04,869.31 L1384.04,867.57 L1384.57,867.57 L1384.57,865.83 L1389.39,865.83 L1389.39,864.09 L1393.52,864.09 L1393.52,862.34 L1396.20,862.34 L1396.20,860.60 L1402.93,860.60 L1402.93,858.86 L1410.50,858.86 L1410.50,857.12 L1413.03,857.12 L1413.03,855.37 L1415.48,855.37 L1415.48,853.63 L1418.00,853.63 L1418.00,851.89 L1420.30,851.89 L1420.30,850.15 L1422.44,850.15 L1422.44,848.40 L1424.58,848.40 L1424.58,846.66 L1433.22,846.66 L1433.22,844.92 L1438.73,844.92 L1438.73,843.18 L1439.57,843.18 L1439.57,841.43 L1440.49,841.43 L1440.49,839.69 L1441.49,839.69 L1441.49,837.95 L1442.48,837.95 L1442.48,836.21 L1443.55,836.21 L1443.55,834.46 L1444.62,834.46 L1444.62,832.72 L1445.62,832.72 L1445.62,830.98 L1446.69,830.98 L1446.69,829.24 L1448.07,829.24 L1448.07,827.49 L1449.52,827.49 L1449.52,825.75 L1450.97,825.75 L1450.97,824.01 L1452.43,824.01 L1452.43,822.27 L1453.80,822.27 L1453.80,820.52 L1455.03,820.52 L1455.03,818.78 L1456.33,818.78 L1456.33,817.04 L1457.63,817.04 L1457.63,815.30 L1458.78,815.30 L1458.78,813.55 L1459.92,813.55 L1459.92,811.81 L1461.07,811.81 L1461.07,810.07 L1462.29,810.07 L1462.29,808.33 L1464.36,808.33 L1464.36,806.58 L1466.50,806.58 L1466.50,804.84 L1468.49,804.84 L1468.49,803.10 L1470.02,803.10 L1470.02,801.36 L1471.55,801.36 L1471.55,799.61 L1473.23,799.61 L1473.23,797.87 L1475.38,797.87 L1475.38,796.13 L1477.52,796.13 L1477.52,794.39 L1479.05,794.39 L1479.05,792.64 L1480.42,792.64 L1480.42,790.90 L1481.80,790.90 L1481.80,789.16 L1483.41,789.16 L1483.41,787.42 L1485.63,787.42 L1485.63,785.67 L1487.92,785.67 L1487.92,783.93 L1490.14,783.93 L1490.14,782.19 L1491.13,782.19 L1491.13,780.45 L1491.98,780.45 L1491.98,778.70 L1492.82,778.70 L1492.82,776.96 L1493.58,776.96 L1493.58,775.22 L1494.50,775.22 L1494.50,773.48 L1495.57,773.48 L1495.57,771.73 L1496.64,771.73 L1496.64,769.99 L1497.79,769.99 L1497.79,768.25 L1499.01,768.25 L1499.01,766.51 L1500.32,766.51 L1500.32,764.76 L1502.15,764.76 L1502.15,763.02 L1504.75,763.02 L1504.75,761.28 L1507.43,761.28 L1507.43,759.54 L1515.61,759.54 L1515.61,757.79 L1515.77,757.79 L1515.77,756.05 L1515.92,756.05 L1515.92,754.31 L1516.15,754.31 L1516.15,752.57 L1516.30,752.57 L1516.30,750.82 L1516.84,750.82 L1516.84,749.08 L1518.06,749.08 L1518.06,747.34 L1519.29,747.34 L1519.29,745.60 L1521.35,745.60 L1521.35,743.85 L1523.49,743.85 L1523.49,742.11 L1525.25,742.11 L1525.25,740.37 L1526.33,740.37 L1526.33,738.63 L1527.32,738.63 L1527.32,736.88 L1528.39,736.88 L1528.39,735.14 L1529.54,735.14 L1529.54,733.40 L1531.07,733.40 L1531.07,731.66 L1532.60,731.66 L1532.60,729.91 L1533.21,729.91 L1533.21,728.17 L1533.21,728.17 L1533.21,726.43 L1533.21,726.43 L1533.21,724.69 L1533.21,724.69 L1533.21,722.94 L1533.97,722.94 L1533.97,721.20 L1535.81,721.20 L1535.81,719.46 L1537.65,719.46 L1537.65,717.72 L1538.79,717.72 L1538.79,715.97 L1539.94,715.97 L1539.94,714.23 L1541.09,714.23 L1541.09,712.49 L1543.00,712.49 L1543.00,710.75 L1545.76,710.75 L1545.76,709.00 L1548.51,709.00 L1548.51,707.26 L1549.43,707.26 L1549.43,705.52 L1550.35,705.52 L1550.35,703.78 L1551.26,703.78 L1551.26,702.03 L1552.18,702.03 L1552.18,700.29 L1553.25,700.29 L1553.25,698.55 L1554.40,698.55 L1554.40,696.81 L1555.47,696.81 L1555.47,695.06 L1556.62,695.06 L1556.62,693.32 L1557.77,693.32 L1557.77,691.58 L1559.07,691.58 L1559.07,689.84 L1560.52,689.84 L1560.52,688.09 L1561.97,688.09 L1561.97,686.35 L1563.58,686.35 L1563.58,684.61 L1565.19,684.61 L1565.19,682.87 L1566.79,682.87 L1566.79,681.12 L1568.55,681.12 L1568.55,679.38 L1570.31,679.38 L1570.31,677.64 L1572.15,677.64 L1572.15,675.90 L1573.98,675.90 L1573.98,674.15 L1576.59,674.15 L1576.59,672.41 L1577.43,672.41 L1577.43,670.67 L1578.12,670.67 L1578.12,668.93 L1578.80,668.93 L1578.80,667.18 L1580.56,667.18 L1580.56,665.44 L1583.47,665.44 L1583.47,663.70 L1587.83,663.70 L1587.83,661.96 L1593.72,661.96 L1593.72,660.21 L1594.26,660.21 L1594.26,658.47 L1594.72,658.47 L1594.72,656.73 L1595.48,656.73 L1595.48,654.99 L1597.01,654.99 L1597.01,653.24 L1598.54,653.24 L1598.54,651.50 L1600.22,651.50 L1600.22,649.76 L1602.52,649.76 L1602.52,648.02 L1604.97,648.02 L1604.97,646.27 L1607.87,646.27 L1607.87,644.53 L1610.86,644.53 L1610.86,642.79 L1612.77,642.79 L1612.77,641.05 L1614.07,641.05 L1614.07,639.30 L1615.29,639.30 L1615.29,637.56 L1622.71,637.56 L1622.71,635.82 L1631.97,635.82 L1631.97,634.08 L1637.79,634.08 L1637.79,632.33 L1641.38,632.33 L1641.38,630.59 L1644.06,630.59 L1644.06,628.85 L1646.66,628.85 L1646.66,627.11 L1649.18,627.11 L1649.18,625.36 L1651.63,625.36 L1651.63,623.62 L1654.46,623.62 L1654.46,621.88 L1658.29,621.88 L1658.29,620.14 L1662.42,620.14 L1662.42,618.39 L1667.01,618.39 L1667.01,616.65 L1671.98,616.65 L1671.98,614.91 L1678.18,614.91 L1678.18,613.17 L1684.91,613.17 L1684.91,611.42 L1690.72,611.42 L1690.72,609.68 L1697.00,609.68 L1697.00,607.94 L1705.03,607.94 L1705.03,606.20 L1712.60,606.20 L1712.60,604.45 L1716.20,604.45 L1716.20,602.71 L1719.87,602.71 L1719.87,600.97 L1723.92,600.97 L1723.92,599.23 L1727.44,599.23 L1727.44,597.48 L1729.82,597.48 L1729.82,595.74 L1754.00,595.74 L1754.00,592.00 L985.00,592.00 Z" fill="#C6D9F1"/>
</g>
<path d="M1752.50,594.00V1000.00" stroke="#a8a8a8" stroke-width="1" fill="none"/>
<path d="M986.00,999.50h7.5 M986.00,997.76h7.5 M986.00,996.02h7.5 M986.00,994.27h7.5 M986.00,992.53h7.5 M986.00,990.79h7.5 M986.00,989.05h7.5 M986.00,987.30h7.5 M986.00,985.56h7.5 M986.00,983.82h7.5 M986.00,982.08h7.5 M986.00,980.33h7.5 M986.00,978.59h7.5 M986.00,976.85h7.5 M986.00,975.11h7.5 M986.00,973.36h7.5 M986.00,971.62h7.5 M986.00,969.88h7.5 M986.00,968.14h7.5 M986.00,966.39h7.5 M986.00,964.65h7.5 M986.00,962.91h7.5 M986.00,961.17h7.5 M986.00,959.42h7.5 M986.00,957.68h7.5 M986.00,955.94h7.5 M986.00,954.20h7.5 M986.00,952.45h7.5 M986.00,950.71h7.5 M986.00,948.97h7.5 M986.00,947.23h7.5 M986.00,945.48h7.5 M986.00,943.74h7.5 M986.00,942.00h7.5 M986.00,940.26h7.5 M986.00,938.51h7.5 M986.00,936.77h7.5 M986.00,935.03h7.5 M986.00,933.29h7.5 M986.00,931.54h7.5 M986.00,929.80h7.5 M986.00,928.06h7.5 M986.00,926.32h7.5 M986.00,924.57h7.5 M986.00,922.83h7.5 M986.00,921.09h7.5 M986.00,919.35h7.5 M986.00,917.60h7.5 M986.00,915.86h7.5 M986.00,914.12h7.5 M986.00,912.38h7.5 M986.00,910.63h7.5 M986.00,908.89h7.5 M986.00,907.15h7.5 M986.00,905.41h7.5 M986.00,903.66h7.5 M986.00,901.92h7.5 M986.00,900.18h7.5 M986.00,898.44h7.5 M986.00,896.69h7.5 M986.00,894.95h7.5 M986.00,893.21h7.5 M986.00,891.47h7.5 M986.00,889.72h7.5 M986.00,887.98h7.5 M986.00,886.24h7.5 M986.00,884.50h7.5 M986.00,882.75h7.5 M986.00,881.01h7.5 M986.00,879.27h7.5 M986.00,877.53h7.5 M986.00,875.78h7.5 M986.00,874.04h7.5 M986.00,872.30h7.5 M986.00,870.56h7.5 M986.00,868.81h7.5 M986.00,867.07h7.5 M986.00,865.33h7.5 M986.00,863.59h7.5 M986.00,861.84h7.5 M986.00,860.10h7.5 M986.00,858.36h7.5 M986.00,856.62h7.5 M986.00,854.87h7.5 M986.00,853.13h7.5 M986.00,851.39h7.5 M986.00,849.65h7.5 M986.00,847.90h7.5 M986.00,846.16h7.5 M986.00,844.42h7.5 M986.00,842.68h7.5 M986.00,840.93h7.5 M986.00,839.19h7.5 M986.00,837.45h7.5 M986.00,835.71h7.5 M986.00,833.96h7.5 M986.00,832.22h7.5 M986.00,830.48h7.5 M986.00,828.74h7.5 M986.00,826.99h7.5 M986.00,825.25h7.5 M986.00,823.51h7.5 M986.00,821.77h7.5 M986.00,820.02h7.5 M986.00,818.28h7.5 M986.00,816.54h7.5 M986.00,814.80h7.5 M986.00,813.05h7.5 M986.00,811.31h7.5 M986.00,809.57h7.5 M986.00,807.83h7.5 M986.00,806.08h7.5 M986.00,804.34h7.5 M986.00,802.60h7.5 M986.00,800.86h7.5 M986.00,799.11h7.5 M986.00,797.37h7.5 M986.00,795.63h7.5 M986.00,793.89h7.5 M986.00,792.14h7.5 M986.00,790.40h7.5 M986.00,788.66h7.5 M986.00,786.92h7.5 M986.00,785.17h7.5 M986.00,783.43h7.5 M986.00,781.69h7.5 M986.00,779.95h7.5 M986.00,778.20h7.5 M986.00,776.46h7.5 M986.00,774.72h7.5 M986.00,772.98h7.5 M986.00,771.23h7.5 M986.00,769.49h7.5 M986.00,767.75h7.5 M986.00,766.01h7.5 M986.00,764.26h7.5 M986.00,762.52h7.5 M986.00,760.78h7.5 M986.00,759.04h7.5 M986.00,757.29h7.5 M986.00,755.55h7.5 M986.00,753.81h7.5 M986.00,752.07h7.5 M986.00,750.32h7.5 M986.00,748.58h7.5 M986.00,746.84h7.5 M986.00,745.10h7.5 M986.00,743.35h7.5 M986.00,741.61h7.5 M986.00,739.87h7.5 M986.00,738.13h7.5 M986.00,736.38h7.5 M986.00,734.64h7.5 M986.00,732.90h7.5 M986.00,731.16h7.5 M986.00,729.41h7.5 M986.00,727.67h7.5 M986.00,725.93h7.5 M986.00,724.19h7.5 M986.00,722.44h7.5 M986.00,720.70h7.5 M986.00,718.96h7.5 M986.00,717.22h7.5 M986.00,715.47h7.5 M986.00,713.73h7.5 M986.00,711.99h7.5 M986.00,710.25h7.5 M986.00,708.50h7.5 M986.00,706.76h7.5 M986.00,705.02h7.5 M986.00,703.28h7.5 M986.00,701.53h7.5 M986.00,699.79h7.5 M986.00,698.05h7.5 M986.00,696.31h7.5 M986.00,694.56h7.5 M986.00,692.82h7.5 M986.00,691.08h7.5 M986.00,689.34h7.5 M986.00,687.59h7.5 M986.00,685.85h7.5 M986.00,684.11h7.5 M986.00,682.37h7.5 M986.00,680.62h7.5 M986.00,678.88h7.5 M986.00,677.14h7.5 M986.00,675.40h7.5 M986.00,673.65h7.5 M986.00,671.91h7.5 M986.00,670.17h7.5 M986.00,668.43h7.5 M986.00,666.68h7.5 M986.00,664.94h7.5 M986.00,663.20h7.5 M986.00,661.46h7.5 M986.00,659.71h7.5 M986.00,657.97h7.5 M986.00,656.23h7.5 M986.00,654.49h7.5 M986.00,652.74h7.5 M986.00,651.00h7.5 M986.00,649.26h7.5 M986.00,647.52h7.5 M986.00,645.77h7.5 M986.00,644.03h7.5 M986.00,642.29h7.5 M986.00,640.55h7.5 M986.00,638.80h7.5 M986.00,637.06h7.5 M986.00,635.32h7.5 M986.00,633.58h7.5 M986.00,631.83h7.5 M986.00,630.09h7.5 M986.00,628.35h7.5 M986.00,626.61h7.5 M986.00,624.86h7.5 M986.00,623.12h7.5 M986.00,621.38h7.5 M986.00,619.64h7.5 M986.00,617.89h7.5 M986.00,616.15h7.5 M986.00,614.41h7.5 M986.00,612.67h7.5 M986.00,610.92h7.5 M986.00,609.18h7.5 M986.00,607.44h7.5 M986.00,605.70h7.5 M986.00,603.95h7.5 M986.00,602.21h7.5 M986.00,600.47h7.5 M986.00,598.73h7.5 M986.00,596.98h7.5 M986.00,595.24h7.5 M986.00,593.50h7.5" stroke="#868686" stroke-width="1.25" fill="none"/>
<path d="M986.50,593.00V1007.00M986.50,1000.00H1753.00" stroke="#868686" stroke-width="1.1" fill="none"/>
<path d="M986.50,1000.00v7 M1139.70,1000.00v7 M1292.90,1000.00v7 M1446.10,1000.00v7 M1599.30,1000.00v7 M1752.50,1000.00v7" stroke="#868686" stroke-width="1.1" fill="none"/>
<text class="tk" x="986.50" y="1034.00" text-anchor="middle">0</text>
<text class="tk" x="1139.70" y="1034.00" text-anchor="middle">20</text>
<text class="tk" x="1292.90" y="1034.00" text-anchor="middle">40</text>
<text class="tk" x="1446.10" y="1034.00" text-anchor="middle">60</text>
<text class="tk" x="1599.30" y="1034.00" text-anchor="middle">80</text>
<text class="tk" x="1752.50" y="1034.00" text-anchor="middle">100</text>
<text class="tk" x="967.00" y="1006.53" text-anchor="end">0</text>
<text class="tk" x="967.00" y="971.68" text-anchor="end">20</text>
<text class="tk" x="967.00" y="936.83" text-anchor="end">40</text>
<text class="tk" x="967.00" y="901.98" text-anchor="end">60</text>
<text class="tk" x="967.00" y="867.13" text-anchor="end">80</text>
<text class="tk" x="967.00" y="832.28" text-anchor="end">100</text>
<text class="tk" x="967.00" y="797.43" text-anchor="end">120</text>
<text class="tk" x="967.00" y="762.58" text-anchor="end">140</text>
<text class="tk" x="967.00" y="727.73" text-anchor="end">160</text>
<text class="tk" x="967.00" y="692.88" text-anchor="end">180</text>
<text class="tk" x="967.00" y="658.03" text-anchor="end">200</text>
<text class="tk" x="967.00" y="623.18" text-anchor="end">220</text>
<text class="pt" x="1011.3" y="634.2">Advanced</text>
<text class="pt" x="1011.3" y="668.4">(n = 233)</text>
<text class="ax" x="930" y="1098.3" text-anchor="middle">Percent Instructor Collapsed Codes</text>
<text class="ax" style="font-size:39.5px" transform="translate(31.5,554.3) rotate(-90)" text-anchor="middle">Class Sessions</text>
</svg>
</body></html>
